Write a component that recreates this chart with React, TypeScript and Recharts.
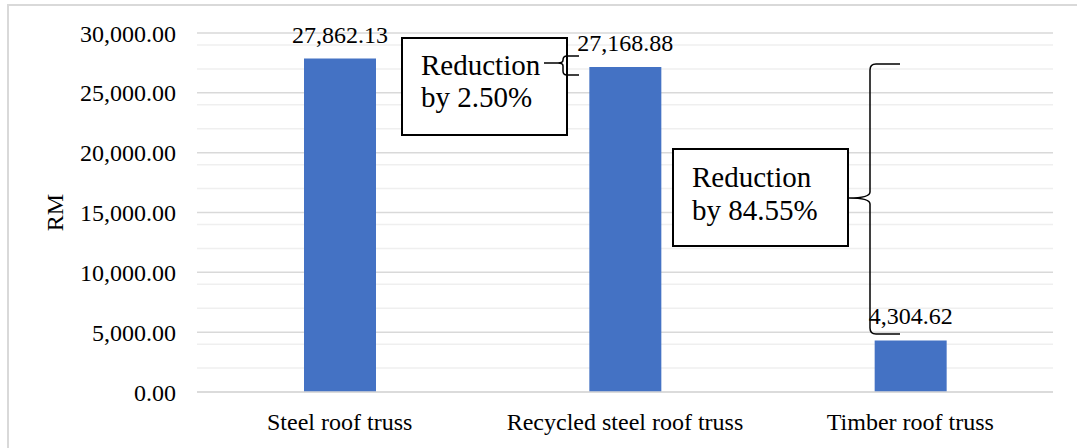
import React from "react";
import {
  BarChart,
  Bar,
  XAxis,
  YAxis,
  CartesianGrid,
  LabelList,
} from "recharts";

const categories = ["Steel roof truss", "Recycled steel roof truss", "Timber roof truss"];
const costs = [27862.13, 27168.88, 4304.62];
const yTicks = [0, 5000, 10000, 15000, 20000, 25000, 30000];
const minorLines = [
  1000, 2000, 3000, 4000, 6000, 7000, 8000, 9000, 11000, 12000, 13000, 14000,
  16000, 17000, 18000, 19000, 21000, 22000, 23000, 24000, 26000, 27000, 28000, 29000,
];
const notes = [
  ["Reduction", "by 2.50%"],
  ["Reduction", "by 84.55%"],
];

const data = categories.map((name, i) => ({ name, cost: costs[i] }));

const FONT = "'Liberation Serif', 'Times New Roman', serif";
const fmt = (v: number) =>
  v.toLocaleString("en-US", { minimumFractionDigits: 2, maximumFractionDigits: 2 });

// hand-drawn callouts from the original (boxes + braces), page coords
function Callouts() {
  return (
    <svg
      width={1077}
      height={448}
      style={{ position: "absolute", left: 0, top: 0, pointerEvents: "none" }}
    >
      <g fontFamily={FONT} fontSize={29} fill="#000">
        <rect x={402} y={38} width={165} height={97} fill="#fff" stroke="#000" strokeWidth={2} />
        <text x={421} y={75}>{notes[0][0]}</text>
        <text x={421} y={107}>{notes[0][1]}</text>
        <path
          d="M544,63 H558 Q563,63 563,60 V60 Q563,56 567,56 H579 M558,63 Q563,63 563,66 V71 Q563,75 567,75 H579"
          fill="none"
          stroke="#000"
          strokeWidth={1.5}
        />

        <rect x={673} y={149} width={175} height={97} fill="#fff" stroke="#000" strokeWidth={2} />
        <text x={692} y={187}>{notes[1][0]}</text>
        <text x={692} y={220}>{notes[1][1]}</text>
        <path
          d="M900,64 H876 Q870,64 870,70 V192 Q870,198 849,198 Q870,198 870,204 V328 Q870,334 876,334 H900"
          fill="none"
          stroke="#000"
          strokeWidth={1.5}
        />
      </g>
    </svg>
  );
}

export default function App() {
  return (
    <div>
      <div
        style={{
          position: "absolute",
          left: 7,
          top: 4,
          width: 1070,
          height: 444,
          borderTop: "2px solid #d9d9d9",
          borderLeft: "2px solid #d9d9d9",
          background: "#fff",
        }}
      >
        <BarChart
          width={1068}
          height={442}
          data={data}
          margin={{ top: 27, right: 24, left: 0, bottom: 0 }}
          barSize={72}
        >
          <CartesianGrid
            vertical={false}
            horizontalValues={minorLines}
            stroke="#efefef"
            strokeWidth={1.5}
          />
          <CartesianGrid
            vertical={false}
            horizontalValues={yTicks}
            stroke="#d9d9d9"
            strokeWidth={1.5}
          />
          <XAxis
            dataKey="name"
            height={56}
            tickSize={0}
            tickMargin={21}
            axisLine={{ stroke: "#d9d9d9", strokeWidth: 1.5 }}
            tick={{ fontFamily: FONT, fontSize: 24, fill: "#000" }}
          />
          <YAxis
            width={188}
            domain={[0, 30000]}
            ticks={yTicks}
            tickFormatter={fmt}
            tickSize={0}
            tickMargin={21}
            axisLine={false}
            tick={{ fontFamily: FONT, fontSize: 24, fill: "#000" }}
            label={{
              content: ({ viewBox }: any) => {
                const cx = viewBox.x + 46;
                const cy = viewBox.y + viewBox.height / 2;
                return (
                  <text
                    x={cx}
                    y={cy}
                    textAnchor="middle"
                    dominantBaseline="central"
                    transform={`rotate(-90, ${cx}, ${cy})`}
                    fontFamily={FONT}
                    fontSize={24}
                    fill="#000"
                  >
                    RM
                  </text>
                );
              },
            }}
          />
          <Bar dataKey="cost" fill="#4472c4" isAnimationActive={false}>
            <LabelList
              dataKey="cost"
              position="top"
              offset={16}
              formatter={(v: any) => fmt(Number(v))}
              style={{ fontFamily: FONT, fontSize: 24, fill: "#000" }}
            />
          </Bar>
        </BarChart>
      </div>
      <Callouts />
    </div>
  );
}
